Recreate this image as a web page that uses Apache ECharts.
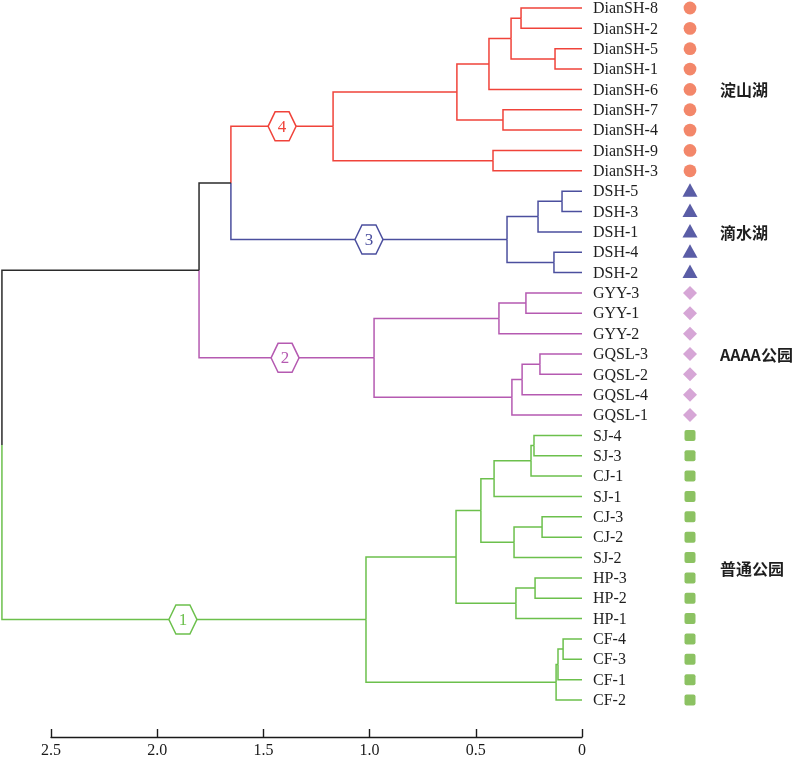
<!DOCTYPE html>
<html>
<head>
<meta charset="utf-8">
<script src="https://cdn.jsdelivr.net/npm/echarts@6/dist/echarts.min.js"></script>
<style>html,body{margin:0;padding:0;background:#fff}#c{width:800px;height:759px}</style>
</head>
<body>
<div id="c"></div>
<script>
// ---- data ----
const leaves = ['DianSH-8','DianSH-2','DianSH-5','DianSH-1','DianSH-6','DianSH-7','DianSH-4','DianSH-9','DianSH-3',
  'DSH-5','DSH-3','DSH-1','DSH-4','DSH-2',
  'GYY-3','GYY-1','GYY-2','GQSL-3','GQSL-2','GQSL-4','GQSL-1',
  'SJ-4','SJ-3','CJ-1','SJ-1','CJ-3','CJ-2','SJ-2','HP-3','HP-2','HP-1','CF-4','CF-3','CF-1','CF-2'];
// linkage: [childA, childB, height]; children are leaf names or 'm<k>' (k-th merge)
const linkage = [
  ['DianSH-8','DianSH-2',0.287], // m0
  ['DianSH-5','DianSH-1',0.127], // m1
  ['m0','m1',0.334],             // m2
  ['m2','DianSH-6',0.438],       // m3
  ['DianSH-7','DianSH-4',0.372], // m4
  ['m3','m4',0.589],             // m5
  ['DianSH-9','DianSH-3',0.419], // m6
  ['m5','m6',1.172],             // m7
  ['DSH-5','DSH-3',0.094],       // m8
  ['m8','DSH-1',0.207],          // m9
  ['DSH-4','DSH-2',0.132],       // m10
  ['m9','m10',0.353],            // m11
  ['m7','m11',1.653],            // m12
  ['GYY-3','GYY-1',0.264],       // m13
  ['m13','GYY-2',0.391],         // m14
  ['GQSL-3','GQSL-2',0.198],     // m15
  ['m15','GQSL-4',0.282],        // m16
  ['m16','GQSL-1',0.330],        // m17
  ['m14','m17',0.979],           // m18
  ['m12','m18',1.803],           // m19
  ['SJ-4','SJ-3',0.226],         // m20
  ['m20','CJ-1',0.240],          // m21
  ['m21','SJ-1',0.414],          // m22
  ['CJ-3','CJ-2',0.188],         // m23
  ['m23','SJ-2',0.320],          // m24
  ['m22','m24',0.476],           // m25
  ['HP-3','HP-2',0.221],         // m26
  ['m26','HP-1',0.311],          // m27
  ['m25','m27',0.593],           // m28
  ['CF-4','CF-3',0.089],         // m29
  ['m29','CF-1',0.113],          // m30
  ['m30','CF-2',0.122],          // m31
  ['m28','m31',1.017],           // m32
  ['m19','m32',2.731]            // m33 root
];
const clusterRoots = ['m7','m11','m18','m32'];
const clusterLabels = ['4','3','2','1'];
const clusterLabelPos = [1.412, 1.003, 1.398, 1.879];
const clusterColors = ['#f0433a','#4b4f9e','#b55ab1','#6cc04c'];
const groupNames = ['淀山湖','滴水湖','AAAA公园','普通公园'];
const groupSizes = [9,5,7,14];
const groupSymbols = ['circle','triangle','diamond','square'];
const groupSymbolColors = ['#f3876a','#5a5da6','#d6a6d6','#8cc262'];
const tickLabels = ['0','0.5','1.0','1.5','2.0','2.5'];

// ---- build tree ----
const nodes = {};
leaves.forEach((n,i)=>{ nodes[n] = {h:0, y:i, children:[]}; });
linkage.forEach((m,k)=>{
  const a = nodes[m[0]], b = nodes[m[1]];
  nodes['m'+k] = {h:m[2], y:(a.y+b.y)/2, children:[m[0],m[1]]};
});
Object.values(nodes).forEach(n=>n.color='#2b2b2b');
function paint(id,c){ nodes[id].color=c; nodes[id].children.forEach(ch=>paint(ch,c)); }
clusterRoots.forEach((r,i)=>paint(r,clusterColors[i]));
const links = [];
linkage.forEach((m,k)=>{
  const p = nodes['m'+k];
  [m[0],m[1]].forEach(cid=>{
    const c = nodes[cid];
    links.push({pts:[[c.h,c.y],[p.h,c.y],[p.h,p.y]], color:c.color});
  });
});
links.sort((a,b)=>(a.color==='#2b2b2b')-(b.color==='#2b2b2b'));
const leafGroup = [];
groupSizes.forEach((s,g)=>{ for(let i=0;i<s;i++) leafGroup.push(g); });
const groupCenters = [];
{ let st=0; groupSizes.forEach(s=>{ groupCenters.push(st+(s-1)/2); st+=s; }); }

const serif = 'Liberation Serif';
const chart = echarts.init(document.getElementById('c'));
chart.setOption({
  animation:false,
  grid:{left:51, right:218, top:8, height:692},
  xAxis:{type:'value', inverse:true, min:0, max:2.5, interval:0.5, position:'bottom', offset:37,
    axisLine:{onZero:false, lineStyle:{color:'#1a1a1a', width:1.4}},
    axisTick:{inside:true, length:8, lineStyle:{color:'#1a1a1a', width:1.4}},
    splitLine:{show:false},
    axisLabel:{margin:6, fontFamily:serif, fontSize:16, color:'#1a1a1a',
      formatter:v=>tickLabels[Math.round(v/0.5)]}},
  yAxis:{type:'value', inverse:true, min:0, max:34, show:false},
  series:[
    {type:'custom', clip:false, z:2, data:links.map((l,i)=>[0,0]),
     renderItem:(params,api)=>{
       const l = links[params.dataIndex];
       return {type:'polyline', shape:{points:l.pts.map(p=>api.coord(p))},
         style:{stroke:l.color, lineWidth:1.5, fill:null}};
     }},
    {type:'custom', clip:false, z:5, data:clusterRoots.map(()=>[0,0]),
     renderItem:(params,api)=>{
       const i = params.dataIndex;
       const c = api.coord([clusterLabelPos[i], nodes[clusterRoots[i]].y]);
       const hx = [[-14,0],[-7,-14.5],[7,-14.5],[14,0],[7,14.5],[-7,14.5]].map(p=>[c[0]+p[0],c[1]+p[1]]);
       return {type:'group', children:[
         {type:'polygon', shape:{points:hx}, style:{fill:'#fff', stroke:clusterColors[i], lineWidth:1.5}},
         {type:'text', x:c[0], y:c[1]+1, style:{text:clusterLabels[i], fill:clusterColors[i], font:'17px '+serif, align:'center', verticalAlign:'middle'}}
       ]};
     }},
    {type:'custom', clip:false, z:5, data:leaves.map(()=>[0,0]),
     renderItem:(params,api)=>{
       const i = params.dataIndex;
       const c = api.coord([0, i]);
       const g = leafGroup[i];
       const sx = c[0]+108, sy = c[1];
       const col = groupSymbolColors[g];
       let sym;
       if (groupSymbols[g]==='circle') sym = {type:'circle', shape:{cx:sx, cy:sy, r:6.4}, style:{fill:col}};
       else if (groupSymbols[g]==='triangle') sym = {type:'polygon', shape:{points:[[sx,sy-8],[sx+7.5,sy+5.5],[sx-7.5,sy+5.5]]}, style:{fill:col}};
       else if (groupSymbols[g]==='diamond') sym = {type:'polygon', shape:{points:[[sx,sy-7],[sx+7,sy],[sx,sy+7],[sx-7,sy]]}, style:{fill:col}};
       else sym = {type:'rect', shape:{x:sx-5.5, y:sy-5.5, width:11, height:11, r:2}, style:{fill:col}};
       return {type:'group', children:[
         {type:'text', x:c[0]+11, y:c[1]+1, style:{text:leaves[i], fill:'#1e1e1e', font:'16px '+serif, align:'left', verticalAlign:'middle'}},
         sym
       ]};
     }},
    {type:'custom', clip:false, z:5, data:groupNames.map(()=>[0,0]),
     renderItem:(params,api)=>{
       const i = params.dataIndex;
       const c = api.coord([0, groupCenters[i]]);
       return {type:'text', x:c[0]+138, y:c[1]+1, style:{text:groupNames[i], fill:'#1e1e1e', font:'bold 16px "Noto Sans CJK SC"', align:'left', verticalAlign:'middle'}};
     }}
  ]
});
</script>
</body>
</html>
